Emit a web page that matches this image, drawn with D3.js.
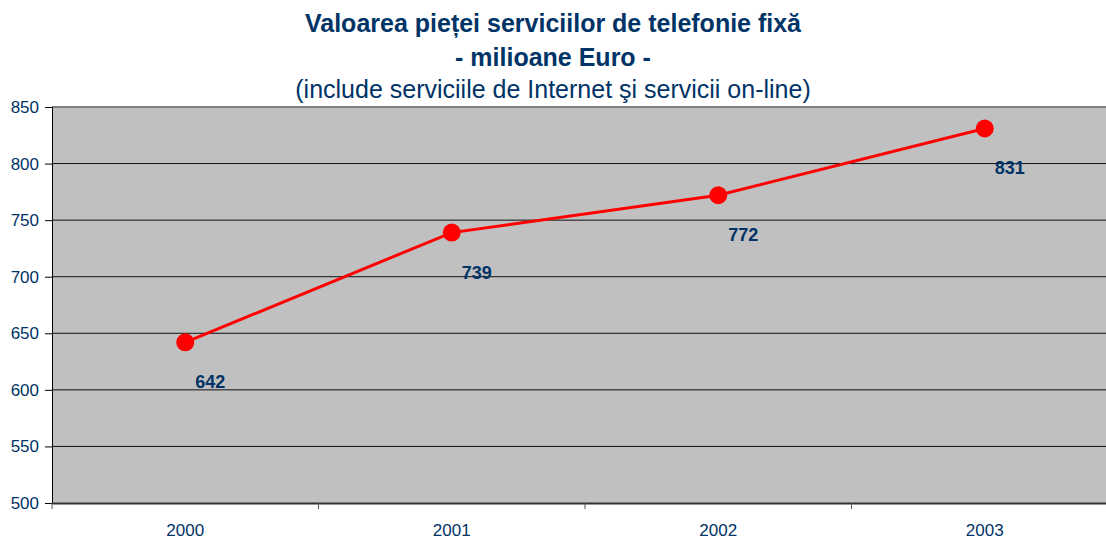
<!DOCTYPE html>
<html lang="ro">
<head>
    <meta charset="UTF-8">
    <title>Valoarea pieței serviciilor de telefonie fixă</title>
    <script src="https://d3js.org/d3.v7.min.js"></script>
    <style>
        body { margin: 0; background: #fff; }
        svg { display: block; font-family: "Liberation Sans", Arial, sans-serif; }
    </style>
</head>
<body>
    <div id="chart"></div>

    <script>
        // Data
        const years = ["2000", "2001", "2002", "2003"];
        const values = [642, 739, 772, 831];
        const yTicks = [500, 550, 600, 650, 700, 750, 800, 850];

        const width = 1106, height = 540;
        const margin = { left: 52, top: 107, bottom: 503, right: 1118 };
        const navy = "#003366";

        const svg = d3.select("#chart")
            .append("svg")
            .attr("width", width)
            .attr("height", height);

        // Scales
        const x = d3.scaleBand()
            .domain(years)
            .range([margin.left, margin.right]);

        const y = d3.scaleLinear()
            .domain([500, 850])
            .range([margin.bottom, margin.top]);

        // Plot background
        svg.append("rect")
            .attr("x", margin.left)
            .attr("y", margin.top)
            .attr("width", margin.right - margin.left)
            .attr("height", margin.bottom - margin.top)
            .attr("fill", "#c0c0c0");

        // Gridlines
        svg.append("g")
            .selectAll("line")
            .data(yTicks.slice(1, -1))
            .join("line")
            .attr("x1", margin.left)
            .attr("x2", width)
            .attr("y1", d => y(d))
            .attr("y2", d => y(d))
            .attr("stroke", "#111")
            .attr("stroke-width", 1);

        // Top border of plot
        svg.append("line")
            .attr("x1", margin.left).attr("x2", width)
            .attr("y1", y(850)).attr("y2", y(850))
            .attr("stroke", "#808080")
            .attr("stroke-width", 2);

        // Y axis
        const yAxis = svg.append("g")
            .attr("transform", `translate(${margin.left},0)`)
            .call(d3.axisLeft(y).tickValues(yTicks).tickSize(7).tickPadding(6));
        yAxis.select(".domain").attr("stroke", "#000");
        yAxis.selectAll(".tick line").attr("stroke", "#000");
        yAxis.selectAll("text")
            .attr("fill", navy)
            .style("font-size", "17px");

        // X axis
        const xAxis = svg.append("g")
            .attr("transform", `translate(0,${margin.bottom})`)
            .call(d3.axisBottom(x).tickSize(0).tickPadding(21));
        xAxis.select(".domain").attr("stroke", "#333").attr("stroke-width", 2);
        xAxis.selectAll("text")
            .attr("fill", navy)
            .style("font-size", "17px");

        // X tick marks at band boundaries
        xAxis.selectAll(".bound")
            .data(years)
            .join("line")
            .attr("class", "bound")
            .attr("x1", d => x(d))
            .attr("x2", d => x(d))
            .attr("y1", 0)
            .attr("y2", 6)
            .attr("stroke", "#555");

        // Line
        const cxOf = i => x(years[i]) + x.bandwidth() / 2;
        const line = d3.line()
            .x((d, i) => cxOf(i))
            .y(d => y(d));

        svg.append("path")
            .datum(values)
            .attr("d", line)
            .attr("fill", "none")
            .attr("stroke", "#ff0000")
            .attr("stroke-width", 3);

        // Markers
        svg.append("g")
            .selectAll("circle")
            .data(values)
            .join("circle")
            .attr("cx", (d, i) => cxOf(i))
            .attr("cy", d => y(d))
            .attr("r", 9)
            .attr("fill", "#ff0000");

        // Data labels
        svg.append("g")
            .selectAll("text")
            .data(values)
            .join("text")
            .attr("x", (d, i) => cxOf(i) + 25)
            .attr("y", d => y(d) + 46)
            .attr("text-anchor", "middle")
            .attr("fill", navy)
            .style("font-size", "18px")
            .style("font-weight", "bold")
            .text(d => d);

        // Titles
        const cx = 553;
        svg.append("text")
            .attr("x", cx).attr("y", 32)
            .attr("text-anchor", "middle")
            .attr("fill", navy)
            .style("font-size", "25px")
            .style("font-weight", "bold")
            .text("Valoarea pieței serviciilor de telefonie fixă");

        svg.append("text")
            .attr("x", cx).attr("y", 66)
            .attr("text-anchor", "middle")
            .attr("fill", navy)
            .style("font-size", "25px")
            .style("font-weight", "bold")
            .text("- milioane Euro -");

        svg.append("text")
            .attr("x", cx).attr("y", 98)
            .attr("text-anchor", "middle")
            .attr("fill", navy)
            .style("font-size", "25px")
            .text("(include serviciile de Internet şi servicii on-line)");
    </script>
</body>
</html>
